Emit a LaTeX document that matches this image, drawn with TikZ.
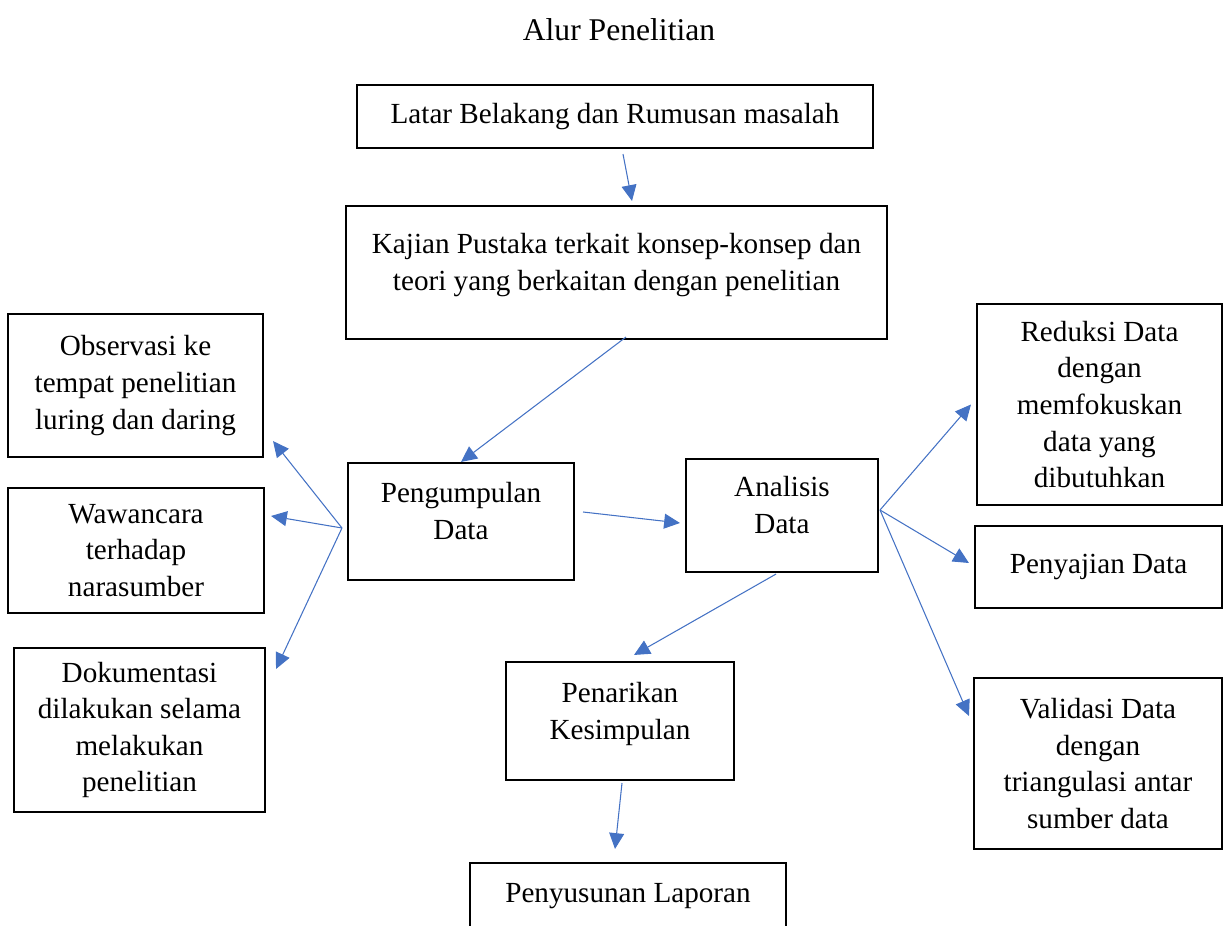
\documentclass[tikz,border=0pt]{standalone}
\usepackage{fontspec}
\setmainfont{Liberation Serif}
\usepackage{xcolor}
\definecolor{arrowblue}{HTML}{4472C4}
\usetikzlibrary{arrows.meta, calc, positioning}

\begin{document}
\begin{tikzpicture}[
        x=0.02cm, y=-0.02cm,
        box/.style={draw, line width=1.2pt, align=center, inner sep=2pt, font=\fontsize{16.6}{20.8}\selectfont},
        flow/.style={draw=arrowblue, line width=0.6pt, -{Triangle[length=9pt, width=8.5pt]}}
    ]
        \useasboundingbox (0,0) rectangle (1224,926);

        \node[font=\fontsize{18}{22}\selectfont] (title) at (619,30) {Alur Penelitian};

        \node[box, minimum width=10.32cm, minimum height=1.26cm] (lat) at (615,116.5) {Latar Belakang dan Rumusan masalah};
        \node[box, minimum width=10.82cm, minimum height=2.66cm] (kaj) at (616.5,272.5) {Kajian Pustaka terkait konsep-konsep dan\\teori yang berkaitan dengan penelitian\\[-9pt]~};
        \node[box, minimum width=5.10cm, minimum height=2.86cm] (obs) at (135.5,385.5) {Observasi ke\\tempat penelitian\\luring dan daring};
        \node[box, minimum width=5.12cm, minimum height=2.50cm] (waw) at (136,550.5) {Wawancara\\terhadap\\narasumber};
        \node[box, minimum width=5.02cm, minimum height=3.28cm] (dok) at (139.5,730) {Dokumentasi\\dilakukan selama\\melakukan\\penelitian};
        \node[box, minimum width=4.52cm, minimum height=2.34cm] (pgd) at (461,521.5) {Pengumpulan\\Data\\[-9pt]~};
        \node[box, minimum width=3.84cm, minimum height=2.26cm] (ana) at (782,515.5) {Analisis\\Data\\[-9pt]~};
        \node[box, minimum width=4.90cm, minimum height=4.02cm] (red) at (1099.5,404.5) {Reduksi Data\\dengan\\memfokuskan\\data yang\\dibutuhkan};
        \node[box, minimum width=4.94cm, minimum height=1.64cm] (pny) at (1098.5,567) {Penyajian Data};
        \node[box, minimum width=4.96cm, minimum height=3.42cm] (val) at (1098,763.5) {Validasi Data\\dengan\\triangulasi antar\\sumber data};
        \node[box, minimum width=4.56cm, minimum height=2.36cm] (pen) at (620,721) {Penarikan\\Kesimpulan\\[-9pt]~};
        \node[box, minimum width=6.32cm, minimum height=1.32cm] (lap) at (628,896) {Penyusunan Laporan};

        \coordinate (pgdL) at ($(pgd.west)+(-5,6.5)$);
        \coordinate (anaR) at ($(ana.east)+(1,-5.5)$);

        \draw[flow] ($(lat.south)+(8,5)$) -- ($(kaj.north)+(15.5,-4)$);
        \draw[flow] ($(kaj.south)+(9.5,-3)$) -- (pgd.north);
        \draw[flow] (pgdL) -- ($(obs.south east)+(9,-17)$);
        \draw[flow] (pgdL) -- ($(waw.north east)+(6,29)$);
        \draw[flow] (pgdL) -- ($(dok.north east)+(10,22)$);
        \draw[flow] ($(pgd.east)+(8,-9.5)$) -- ($(ana.west)+(-5,7.5)$);
        \draw[flow] (anaR) -- ($(red.west)+(-5,0)$);
        \draw[flow] (anaR) -- ($(pny.west)+(-5,-4)$);
        \draw[flow] (anaR) -- ($(val.north west)+(-4,39)$);
        \draw[flow] ($(ana.south)+(-6,1)$) -- ($(pen.north)+(14,-6)$);
        \draw[flow] ($(pen.south)+(2,2)$) -- ($(lap.north)+(-13,-13)$);
    \end{tikzpicture}
\end{document}
